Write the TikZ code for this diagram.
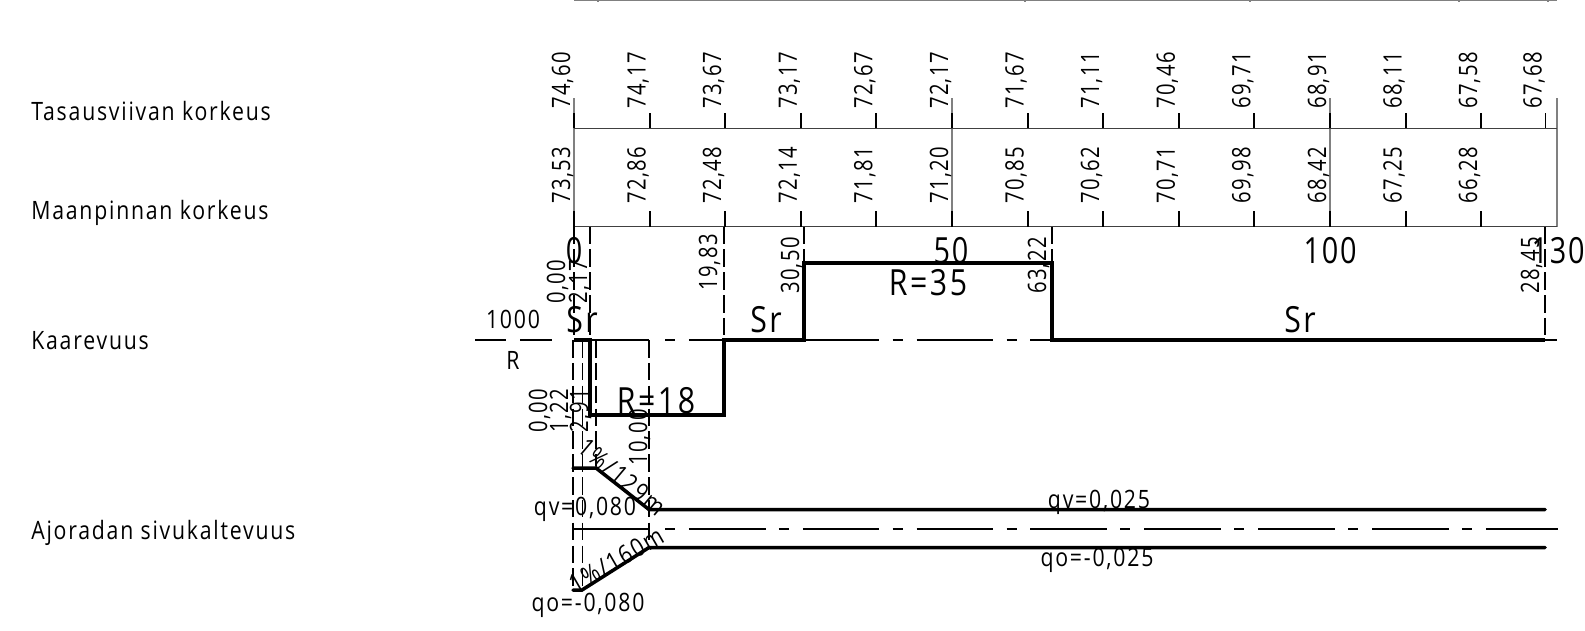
\documentclass[tikz,border=0pt]{standalone}
\usepackage{tkz-euclide}
\usepackage{tikz}
\usepackage{fontspec}
\setmainfont[FakeStretch=0.8,LetterSpace=5]{Open Sans}
\newfontfamily\otsikko[FakeStretch=0.84,LetterSpace=7]{Open Sans}
\tikzset{
  etiq/.style={font=\otsikko\fontsize{14.4}{14.4}\selectfont,inner sep=0pt},
  iso/.style={font=\otsikko\fontsize{20.5}{20.5}\selectfont,inner sep=0pt,anchor=base},
  paalu/.style={font=\fontsize{20.5}{20.5}\selectfont,inner sep=0pt,anchor=base},
  lukema/.style={font=\fontsize{14.4}{14.4}\selectfont,inner sep=0pt,rotate=90,anchor=base west,xshift=-0.6pt},
  ohut/.style={line width=0.8pt},
}
\begin{document}
\begin{tikzpicture}[x=0.02cm,y=-0.02cm]
    \useasboundingbox (0,0) rectangle (1585,630);
    \tkzDefPoints{574/340/A,590/340/B,590/415/C,724/415/D,724/340/E,804/340/F,804/263/G,1052/263/H,1052/340/I,1545/340/J}
    \tkzDefPoints{573/468/K,596/468/L,649/509.5/M,1545/509.5/N,573/590/O,582/590/P,649/547.5/Q,1545/547.5/R}
    % ruudukko
    \draw[gray,line width=0.8pt] (574,0.4) -- (1557,0.4);
    \foreach \x in {598,1025,1250,1459,1548} \draw[gray,line width=0.6pt] (\x,0) -- (\x,2);
    \foreach \x in {574,952,1330,1557} \draw[gray,line width=0.6pt] (\x,98) -- (\x,226.5);
    \draw[black!75,line width=0.6pt] (574,128.3) -- (1557,128.3);
    \draw[black!75,line width=0.6pt] (574,226.5) -- (1557,226.5);
    \foreach \p/\q [count=\i from 0] in {74/60,74/17,73/67,73/17,72/67,72/17,71/67,71/11,70/46,69/71,68/91,68/11,67/58}
      {\pgfmathsetmacro\xx{574+75.6*(\i)}
       \draw[line width=1.1pt] (\xx,113) -- (\xx,128.3);
       \node[lukema] (tas\i) at (\xx-4,108) {\p,\q};}
    \draw[line width=1.1pt] (1545.5,113) -- (1545.5,128.3);
    \node[lukema] (tas13) at (1541.5,108) {67,68};
    \foreach \p/\q [count=\i from 0] in {73/53,72/86,72/48,72/14,71/81,71/20,70/85,70/62,70/71,69/98,68/42,67/25,66/28}
      {\pgfmathsetmacro\xx{574+75.6*(\i)}
       \draw[line width=1.1pt] (\xx,211) -- (\xx,226.5);
       \node[lukema] (maa\i) at (\xx-4,202.5) {\p,\q};}
    % otsikot
    \node[etiq,anchor=base west] (otsA) at (31,120) {Tasausviivan korkeus};
    \node[etiq,anchor=base west] (otsB) at (31,219) {Maanpinnan korkeus};
    \node[etiq,anchor=base west] (otsC) at (31,349) {Kaarevuus};
    \node[etiq,anchor=base west] (otsD) at (31,539) {Ajoradan sivukaltevuus};
    % paaluluvut
    \node[paalu] (pa0) at (574,263) {0};
    \node[paalu] (pa50) at (951,263) {50};
    \node[paalu] (pa100) at (1330,263) {100};
    \node[paalu] (pa130) at (1558,263) {130};
    % akseli
    \draw[ohut] (475,340) -- (506,340) (520,340) -- (552,340) (590,340) -- (649,340);
    \draw[ohut,dash pattern=on 5.7pt off 7.9pt on 43.6pt off 7.6pt] (665,340) -- (1557,340);
    \draw[ohut] (573,529) -- (649,529);
    \draw[ohut,dash pattern=on 5.7pt off 7.9pt on 43.6pt off 7.6pt] (665,529) -- (1558,529);
    % katkoviivat
    \foreach \x/\a/\b in {574/226.5/340,590/226.5/340,724/226.5/340,804/226.5/263,1052/226.5/263,1545/226.5/340,573/340/590,582.5/340/590,596/340/466,649/340/547}
      \draw[ohut,dash pattern=on 10pt off 3pt] (\x,\a) -- (\x,\b);
    % kaarevuus ja sivukaltevuus
    \tkzDrawPolySeg[line width=2pt,line cap=butt](A,B,C,D,E,F,G,H,I,J)
    \tkzDrawPolySeg[line width=2pt](K,L,M,N)
    \tkzDrawPolySeg[line width=2pt](O,P,Q,R)
    % aluksen pituudet
    \node[lukema] (ka0) at (565,303) {0,00};
    \node[lukema] (ka1) at (587,303) {2,17};
    \node[lukema] (ka2) at (717,290) {19,83};
    \node[lukema] (ka3) at (799,293) {30,50};
    \node[lukema] (ka4) at (1046,293) {63,22};
    \node[lukema] (ka5) at (1539,293) {28,45};
    \node[lukema] (ka6) at (547,432) {0,00};
    \node[lukema] (ka7) at (568,432) {1,22};
    \node[lukema] (ka8) at (588,432) {2,91};
    \node[lukema] (ka9) at (647,465) {10,00};
    % tekstit
    \node[iso] (sr1) at (582,332) {Sr};
    \node[iso] (sr2) at (766,332) {Sr};
    \node[iso] (sr3) at (1300,332) {Sr};
    \node[iso] (r35) at (928,295) {R=35};
    \node[iso] (r18) at (656,413) {R=18};
    \node[etiq,anchor=base] (tuh) at (513,328) {1000};
    \node[etiq,anchor=base] (rr) at (513,369) {R};
    \node[etiq,anchor=base] (qv1) at (585,515) {qv=0,080};
    \node[etiq,anchor=base] (qo1) at (588,611) {qo=-0,080};
    \node[etiq,anchor=base] (qv2) at (1099,508) {qv=0,025};
    \node[etiq,anchor=base] (qo2) at (1097,566) {qo=-0,025};
    \node[etiq,rotate=-40] (kal1) at (622,477) {1\%/129m};
    \node[etiq,rotate=30] (kal2) at (616,560) {1\%/160m};
\end{tikzpicture}
\end{document}
